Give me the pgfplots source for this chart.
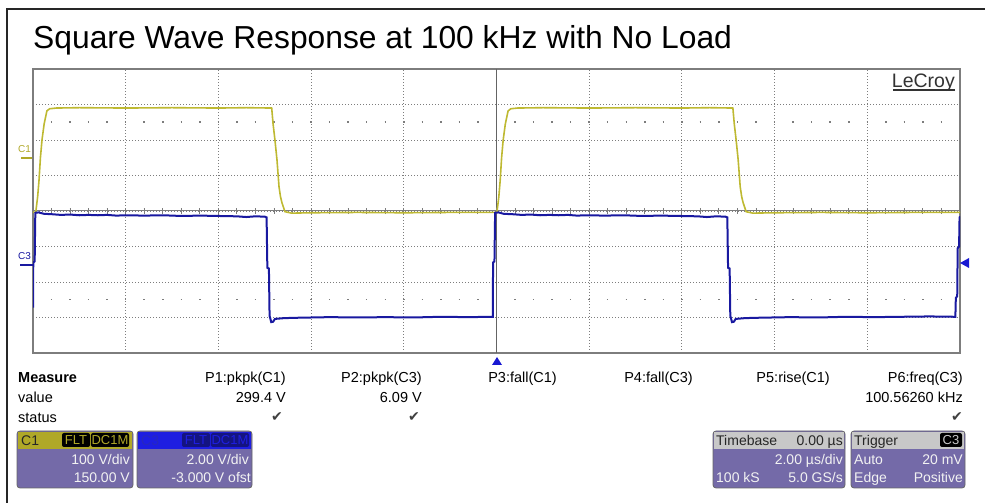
\documentclass[border=0pt]{standalone}
\usepackage{pgfplots}
\pgfplotsset{compat=1.18}
\usepackage{fontspec}
\setmainfont{Liberation Sans}
\newfontfamily\dejavu{DejaVu Sans}
\definecolor{ytrace}{RGB}{190,185,50}
\definecolor{btrace}{RGB}{25,25,160}
\definecolor{bodyp}{RGB}{116,106,168}
\definecolor{c1head}{RGB}{176,168,40}
\definecolor{c3head}{RGB}{30,30,225}
\definecolor{c3txt}{RGB}{40,40,190}
\definecolor{gridc}{RGB}{125,125,125}
\definecolor{headg}{RGB}{200,200,200}
\definecolor{marker}{RGB}{25,25,210}
\newcommand{\fs}[1]{\fontsize{#1}{#1}\selectfont}
\begin{document}
\begin{tikzpicture}[x=1pt,y=1pt]
\useasboundingbox (0,0) rectangle (985,503);
\draw[line width=2.2, black!85] (7,0) -- (7,494) -- (985,494);
\node[anchor=base west, inner sep=0] at (33,454) {\fs{31.8}Square Wave Response at 100 kHz with No Load};

\begin{axis}[at={(33pt,150pt)}, anchor=south west, width=927pt, height=284pt, scale only axis,
  xmin=0, xmax=10, ymin=-4, ymax=4,
  xtick={0,...,10}, ytick={-4,...,4}, xticklabels={}, yticklabels={},
  major tick length=0pt, tick style={draw=none},
  grid=major, grid style={gridc, line width=0.9pt, dash pattern=on 1pt off 2pt},
  axis line style={gridc, line width=1.4pt}]
\draw[gridc, line width=1.5pt, dash pattern=on 1.5pt off 17.04pt, dash phase=0.75pt] (axis cs:0,2.5) -- (axis cs:10,2.5);
\draw[gridc, line width=1.5pt, dash pattern=on 1.5pt off 17.04pt, dash phase=0.75pt] (axis cs:0,-2.5) -- (axis cs:10,-2.5);
\draw[gridc!80!black, line width=1pt] (axis cs:5,-4) -- (axis cs:5,4);
\draw[gridc, line width=1pt] (axis cs:0,0) -- (axis cs:10,0);
\draw[gridc, line width=6pt, dash pattern=on 1pt off 17.54pt, dash phase=0.5pt] (axis cs:0,0) -- (axis cs:10,0);
\addplot[ytrace, line width=1.6pt] coordinates {
(0,-0.03)(0.03,-0.03)(0.05,0.4)(0.065,0.87)(0.08,1.5)(0.097,2.0)(0.12,2.45)(0.15,2.82)(0.18,2.88)(0.25,2.9)(0.5,2.91)(1.0,2.9)(1.5,2.91)(2.0,2.9)(2.3,2.91)(2.575,2.9)(2.59,2.45)(2.61,2.0)(2.632,1.44)(2.654,0.68)(2.67,0.4)(2.686,0.23)(2.718,-0.02)(2.79,-0.06)(3.0,-0.05)(3.5,-0.04)(4.0,-0.05)(4.5,-0.04)(5.0,-0.04)(5.005,-0.03)(5.025,0.4)(5.04,0.87)(5.055,1.5)(5.072,2.0)(5.095,2.45)(5.125,2.82)(5.155,2.88)(5.225,2.9)(5.5,2.91)(6.0,2.9)(6.5,2.91)(7.0,2.9)(7.3,2.91)(7.55,2.9)(7.565,2.45)(7.585,2.0)(7.607,1.44)(7.629,0.68)(7.645,0.4)(7.661,0.23)(7.693,-0.02)(7.765,-0.06)(8.0,-0.05)(8.5,-0.04)(9.0,-0.05)(9.5,-0.04)(10,-0.04)};
\addplot[btrace, line width=2pt] coordinates {
(0.0,-2.72)(0.003,-1.45)(0.018,-1.42)(0.025,-0.05)(0.06,-0.04)(0.12,-0.08)(0.2,-0.09)(0.3,-0.11)(0.4,-0.10)(0.5,-0.12)(0.6,-0.11)(0.7,-0.12)(0.8,-0.11)(0.9,-0.13)(1.0,-0.12)(1.2,-0.13)(1.4,-0.12)(1.6,-0.14)(1.8,-0.13)(2.0,-0.14)(2.2,-0.15)(2.3,-0.17)(2.4,-0.15)(2.5,-0.16)(2.52,-0.18)
(2.528,-1.6)(2.545,-1.62)(2.552,-2.95)(2.57,-3.13)(2.59,-3.12)(2.61,-3.04)(2.7,-3.02)(2.8,-3.01)(3.0,-3.0)(3.2,-2.99)(3.5,-3.0)(3.8,-2.99)(4.1,-3.0)(4.4,-2.98)(4.7,-2.99)(4.95,-2.98)
(4.96,-2.98)(4.963,-1.45)(4.978,-1.42)(4.985,-0.05)(5.02,-0.04)(5.08,-0.08)(5.17,-0.09)(5.27,-0.11)(5.37,-0.10)(5.47,-0.12)(5.57,-0.11)(5.67,-0.12)(5.77,-0.11)(5.87,-0.13)(5.97,-0.12)(6.17,-0.13)(6.37,-0.12)(6.57,-0.14)(6.77,-0.13)(6.97,-0.14)(7.17,-0.15)(7.27,-0.17)(7.37,-0.15)(7.47,-0.16)(7.49,-0.18)
(7.498,-1.6)(7.515,-1.62)(7.522,-2.95)(7.54,-3.13)(7.56,-3.12)(7.58,-3.04)(7.67,-3.02)(7.77,-3.01)(7.97,-3.0)(8.17,-2.99)(8.47,-3.0)(8.77,-2.98)(9.07,-2.99)(9.37,-2.98)(9.67,-2.97)(9.95,-2.98)
(9.955,-2.45)(9.97,-2.4)(9.975,-1.05)(9.99,-1.0)(9.995,-0.2)(10,-0.15)};
\end{axis}

% channel markers
\node[anchor=base west, inner sep=0, text=c1head] at (18,350) {\fs{10}C1};
\draw[c1head, line width=2pt] (21,345) -- (32,345);
\node[anchor=base west, inner sep=0, text=btrace] at (18,243) {\fs{10}C3};
\draw[btrace, line width=2.5pt] (20,238) -- (33,238);
\fill[marker] (497,146) -- (492,138) -- (502,138) -- cycle;
\fill[marker] (960,240) -- (969,245) -- (969,235) -- cycle;

% LeCroy
\node[anchor=base east, inner sep=0, text=black!80] (lc) at (955,415) {\fs{19.5}LeCroy};
\draw[black!80, line width=1.6pt] (893,413) -- (955,413);

% measure rows
\node[anchor=base west, inner sep=0] at (18,120) {\fs{14.5}\bfseries Measure};
\node[anchor=base west, inner sep=0] at (18,100) {\fs{14.5}value};
\node[anchor=base west, inner sep=0] at (18,80) {\fs{14.5}status};
\node[anchor=base east, inner sep=0] at (286,120) {\fs{14.5}P1:pkpk(C1)};
\node[anchor=base east, inner sep=0] at (422,120) {\fs{14.5}P2:pkpk(C3)};
\node[anchor=base east, inner sep=0] at (557,120) {\fs{14.5}P3:fall(C1)};
\node[anchor=base east, inner sep=0] at (693,120) {\fs{14.5}P4:fall(C3)};
\node[anchor=base east, inner sep=0] at (830,120) {\fs{14.5}P5:rise(C1)};
\node[anchor=base east, inner sep=0] at (963,120) {\fs{14.5}P6:freq(C3)};
\node[anchor=base east, inner sep=0] at (286,100) {\fs{14.5}299.4 V};
\node[anchor=base east, inner sep=0] at (422,100) {\fs{14.5}6.09 V};
\node[anchor=base east, inner sep=0] at (963,100) {\fs{14.5}100.56260 kHz};
\node[anchor=base east, inner sep=0, text=black!75] at (283,81) {\dejavu\fs{14}✔};
\node[anchor=base east, inner sep=0, text=black!75] at (420,81) {\dejavu\fs{14}✔};
\node[anchor=base east, inner sep=0, text=black!75] at (963,81) {\dejavu\fs{14}✔};

% C1 box
\draw[black!60, fill=bodyp, rounded corners=3pt, line width=0.8pt] (17,15) rectangle (133,72);
\fill[c1head] (17.6,54) rectangle (132.4,71.4);
\node[anchor=base west, inner sep=0, text=black!85] at (21,57) {\fs{14}C1};
\fill[black, rounded corners=2pt] (62,56) rectangle (90,70);
\fill[black, rounded corners=2pt] (91,56) rectangle (129,70);
\node[anchor=base, inner sep=0, text=c1head] at (76,58) {\fs{13}FLT};
\node[anchor=base, inner sep=0, text=c1head] at (110,58) {\fs{13}DC1M};
\node[anchor=base east, inner sep=0, text=white!95!black] at (130,38) {\fs{14}100 V/div};
\node[anchor=base east, inner sep=0, text=white!95!black] at (130,20) {\fs{14}150.00 V};

% C3 box
\draw[black!60, fill=bodyp, rounded corners=3pt, line width=0.8pt] (137,15) rectangle (252,72);
\fill[c3head] (137.6,54) rectangle (251.4,71.4);
\node[anchor=base west, inner sep=0, text=c3txt] at (141,57) {\fs{14}C3};
\fill[btrace!80!black, rounded corners=2pt] (182,56) rectangle (210,70);
\fill[btrace!80!black, rounded corners=2pt] (211,56) rectangle (249,70);
\node[anchor=base, inner sep=0, text=c3head] at (196,58) {\fs{13}FLT};
\node[anchor=base, inner sep=0, text=c3head] at (230,58) {\fs{13}DC1M};
\node[anchor=base east, inner sep=0, text=white!95!black] at (249,38) {\fs{14}2.00 V/div};
\node[anchor=base east, inner sep=0, text=white!95!black] at (251,20) {\fs{14}-3.000 V ofst};

% Timebase box
\draw[black!60, fill=bodyp, rounded corners=3pt, line width=0.8pt] (713,15) rectangle (845,72);
\fill[headg] (713.6,54) rectangle (844.4,71.4);
\node[anchor=base west, inner sep=0, text=black!85] at (716,57) {\fs{14}Timebase};
\node[anchor=base east, inner sep=0, text=black!85] at (843,57) {\fs{14}0.00 µs};
\node[anchor=base east, inner sep=0, text=white!95!black] at (843,38) {\fs{14}2.00 µs/div};
\node[anchor=base west, inner sep=0, text=white!95!black] at (716,20) {\fs{14}100 kS};
\node[anchor=base east, inner sep=0, text=white!95!black] at (843,20) {\fs{14}5.0 GS/s};

% Trigger box
\draw[black!60, fill=bodyp, rounded corners=3pt, line width=0.8pt] (851,15) rectangle (965,72);
\fill[headg] (851.6,54) rectangle (964.4,71.4);
\node[anchor=base west, inner sep=0, text=black!85] at (854,57) {\fs{14}Trigger};
\fill[black, rounded corners=2pt] (940,56) rectangle (962,70);
\node[anchor=base, inner sep=0, text=headg] at (951,58) {\fs{13}C3};
\node[anchor=base west, inner sep=0, text=white!95!black] at (854,38) {\fs{14}Auto};
\node[anchor=base east, inner sep=0, text=white!95!black] at (963,38) {\fs{14}20 mV};
\node[anchor=base west, inner sep=0, text=white!95!black] at (854,20) {\fs{14}Edge};
\node[anchor=base east, inner sep=0, text=white!95!black] at (963,20) {\fs{14}Positive};
\end{tikzpicture}
\end{document}
